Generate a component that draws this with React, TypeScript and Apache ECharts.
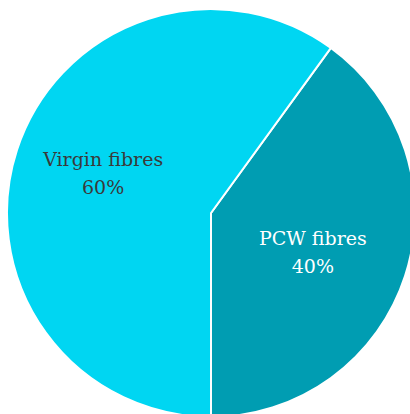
import React, { useEffect, useRef } from "react";
import * as echarts from "echarts";

const categories = ["PCW fibres", "Virgin fibres"];
const values = [40, 60];
const colors = ["#009DB2", "#00D6F2"];
const labelColors = ["#FFFFFF", "#3A3A3A"];
const labelOffsets = [[2, 7], [-8, -8]];

export default function App() {
  const ref = useRef<HTMLDivElement>(null);
  useEffect(() => {
    if (!ref.current) return;
    const chart = echarts.init(ref.current, null, { renderer: "svg" });
    chart.setOption({
      animation: false,
      series: [
        {
          type: "pie",
          center: [211, 213],
          radius: 204,
          startAngle: 54,
          clockwise: true,
          avoidLabelOverlap: false,
          itemStyle: { borderColor: "#FFFFFF", borderWidth: 2 },
          label: {
            show: true,
            position: "inside",
            formatter: "{b}\n{d}%",
            fontFamily: "DejaVu Serif",
            fontSize: 19,
            lineHeight: 28,
            align: "center",
          },
          labelLine: { show: false },
          emphasis: { disabled: true },
          data: categories.map((name, i) => ({
            name,
            value: values[i],
            itemStyle: { color: colors[i] },
            label: { color: labelColors[i], offset: labelOffsets[i] },
          })),
        },
      ],
    });
    return () => chart.dispose();
  }, []);
  return (
    <div
      ref={ref}
      style={{ position: "absolute", left: 0, top: 0, width: 410, height: 414 }}
    />
  );
}
